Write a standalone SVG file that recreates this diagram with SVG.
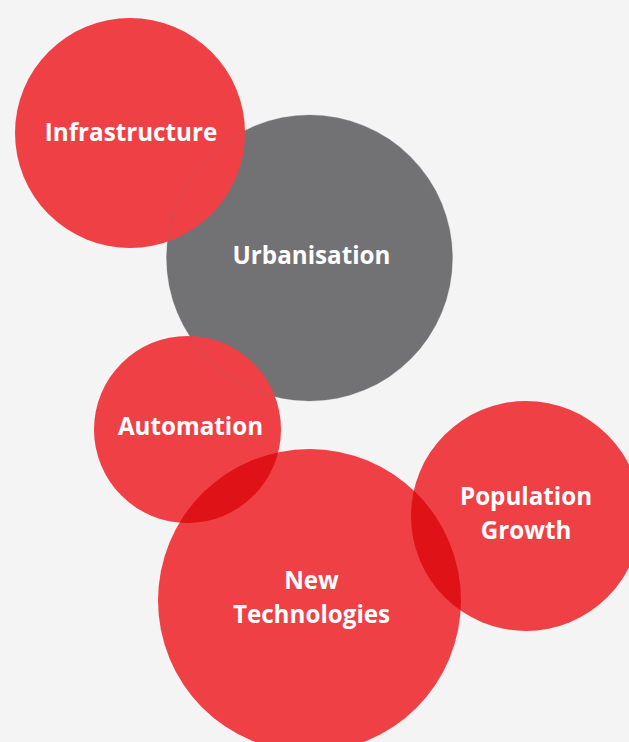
<svg xmlns="http://www.w3.org/2000/svg" width="629" height="742" viewBox="0 0 629 742">
<style>
.red{fill:#ef4046}
.gray{fill:#727274}
.dark{fill:#df1217}
.lbl{font-family:"Open Sans","Liberation Sans",sans-serif;font-weight:bold;font-size:24.2px;fill:#ffffff;text-anchor:middle}
</style>
<defs>
<clipPath id="clipNT"><circle cx="309.5" cy="600.5" r="151.5"/></clipPath>
</defs>
<rect width="629" height="742" fill="#f4f4f4"/>
<g id="urbanisation">
<circle class="gray" cx="309.5" cy="258" r="143"/>
<text class="lbl" x="311.5" y="264">Urbanisation</text>
</g>
<g id="infrastructure">
<circle class="red" cx="130" cy="133" r="115"/>
<text class="lbl" x="131" y="141">Infrastructure</text>
</g>
<g id="automation">
<circle class="red" cx="187.5" cy="429.5" r="93.5"/>
<text class="lbl" x="190.5" y="435">Automation</text>
</g>
<circle cx="309.5" cy="258" r="143" fill="none" stroke="#727274" stroke-opacity="0.35" stroke-width="0.8"/>
<g id="new-technologies">
<circle class="red" cx="309.5" cy="600.5" r="151.5"/>
</g>
<g id="population-growth">
<circle class="red" cx="526" cy="516" r="115"/>
</g>
<g id="overlaps" clip-path="url(#clipNT)">
<circle class="dark" cx="187.5" cy="429.5" r="93.5"/>
<circle class="dark" cx="526" cy="516" r="115"/>
</g>
<g id="labels">
<text class="lbl" x="526" y="505">Population</text>
<text class="lbl" x="526" y="539">Growth</text>
<text class="lbl" x="311.5" y="589">New</text>
<text class="lbl" x="311.5" y="623">Technologies</text>
</g>
</svg>
